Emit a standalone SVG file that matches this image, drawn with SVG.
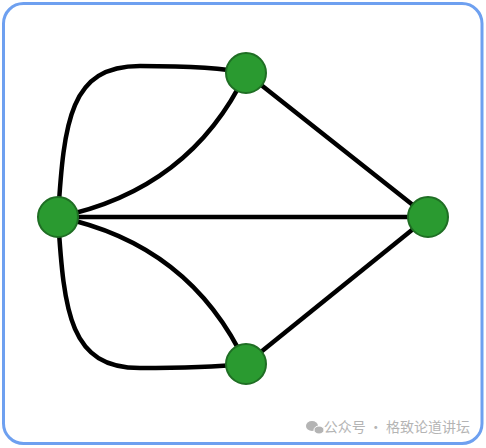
<svg xmlns="http://www.w3.org/2000/svg" width="486" height="448" viewBox="0 0 486 448">
<style>
.edge{fill:none;stroke:#000;stroke-width:4.5;stroke-linecap:round}
.node{fill:#2a9a30;stroke:#1f6e24;stroke-width:2}
.wm{font-family:"Noto Sans CJK SC","Noto Sans",sans-serif;font-size:14px;fill:#b4b4b4}
</style>
<rect x="3.5" y="3.5" width="478.5" height="440" rx="20" fill="#fff" stroke="#6ea0f0" stroke-width="3"/>
<g id="connectors">
<path class="edge" d="M58,217 C64,120 70,66 140,66 C190,66 225,68 246,73"/>
<path class="edge" d="M58,217 Q190,190 246,73"/>
<path class="edge" d="M58,217 L428,217"/>
<path class="edge" d="M246,73 L428,217"/>
<path class="edge" d="M246,364 L428,217"/>
<path class="edge" d="M58,217 Q190,244 246,364"/>
<path class="edge" d="M58,217 C64,314 70,368 140,368 C190,368 225,366 246,364"/>
</g>
<g id="n-left"><circle class="node" cx="58" cy="217" r="20"/></g>
<g id="n-top"><circle class="node" cx="246" cy="73" r="20"/></g>
<g id="n-right"><circle class="node" cx="428" cy="217" r="20"/></g>
<g id="n-bottom"><circle class="node" cx="246" cy="364" r="20"/></g>
<g id="watermark">
<ellipse cx="312" cy="426" rx="6" ry="5" fill="#b4b4b4"/>
<ellipse cx="319" cy="430" rx="5" ry="4" fill="#b4b4b4" stroke="#fff" stroke-width="1"/>
<text class="wm" x="470" y="432" text-anchor="end">公众号 · 格致论道讲坛</text>
</g>
</svg>
